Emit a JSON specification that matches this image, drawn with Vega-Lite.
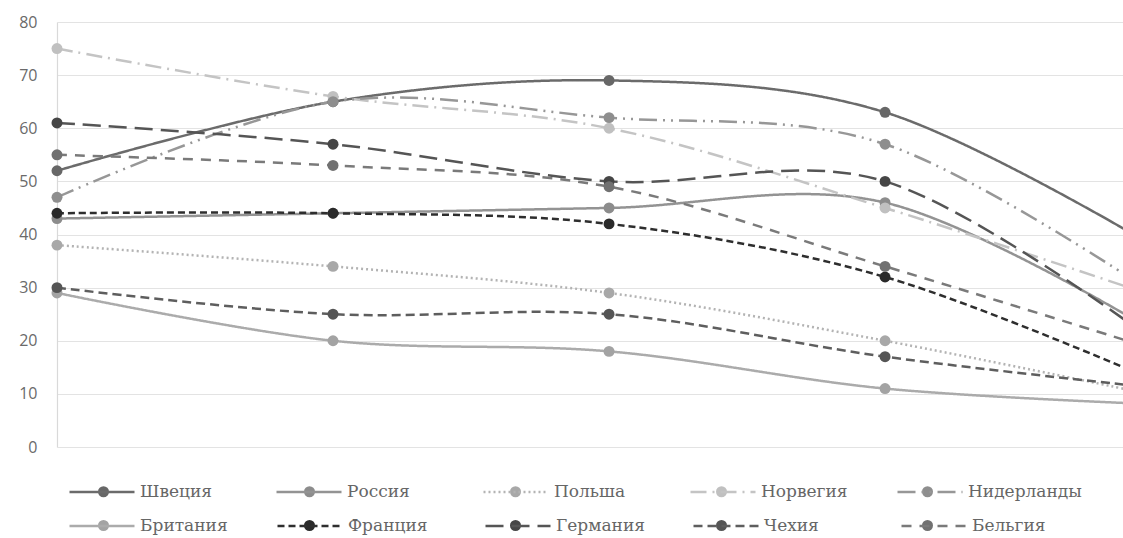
{
  "$schema": "https://vega.github.io/schema/vega-lite/v6.json",
  "width": 1066,
  "height": 425,
  "autosize": {"type": "none"},
  "padding": {"left": 57, "top": 22, "right": 0, "bottom": 91},
  "background": "white",
  "config": {"view": {"stroke": null}},
  "data": {
    "values": [
      {"country": "Швеция", "t": 1, "v": 52}, {"country": "Швеция", "t": 2, "v": 65}, {"country": "Швеция", "t": 3, "v": 69}, {"country": "Швеция", "t": 4, "v": 63}, {"country": "Швеция", "t": 5, "v": 37},
      {"country": "Россия", "t": 1, "v": 43}, {"country": "Россия", "t": 2, "v": 44}, {"country": "Россия", "t": 3, "v": 45}, {"country": "Россия", "t": 4, "v": 46}, {"country": "Россия", "t": 5, "v": 21},
      {"country": "Польша", "t": 1, "v": 38}, {"country": "Польша", "t": 2, "v": 34}, {"country": "Польша", "t": 3, "v": 29}, {"country": "Польша", "t": 4, "v": 20}, {"country": "Польша", "t": 5, "v": 9.5},
      {"country": "Норвегия", "t": 1, "v": 75}, {"country": "Норвегия", "t": 2, "v": 66}, {"country": "Норвегия", "t": 3, "v": 60}, {"country": "Норвегия", "t": 4, "v": 45}, {"country": "Норвегия", "t": 5, "v": 28},
      {"country": "Нидерланды", "t": 1, "v": 47}, {"country": "Нидерланды", "t": 2, "v": 65}, {"country": "Нидерланды", "t": 3, "v": 62}, {"country": "Нидерланды", "t": 4, "v": 57}, {"country": "Нидерланды", "t": 5, "v": 28},
      {"country": "Британия", "t": 1, "v": 29}, {"country": "Британия", "t": 2, "v": 20}, {"country": "Британия", "t": 3, "v": 18}, {"country": "Британия", "t": 4, "v": 11}, {"country": "Британия", "t": 5, "v": 8},
      {"country": "Франция", "t": 1, "v": 44}, {"country": "Франция", "t": 2, "v": 44}, {"country": "Франция", "t": 3, "v": 42}, {"country": "Франция", "t": 4, "v": 32}, {"country": "Франция", "t": 5, "v": 12},
      {"country": "Германия", "t": 1, "v": 61}, {"country": "Германия", "t": 2, "v": 57}, {"country": "Германия", "t": 3, "v": 50}, {"country": "Германия", "t": 4, "v": 50}, {"country": "Германия", "t": 5, "v": 19},
      {"country": "Чехия", "t": 1, "v": 30}, {"country": "Чехия", "t": 2, "v": 25}, {"country": "Чехия", "t": 3, "v": 25}, {"country": "Чехия", "t": 4, "v": 17}, {"country": "Чехия", "t": 5, "v": 11},
      {"country": "Бельгия", "t": 1, "v": 55}, {"country": "Бельгия", "t": 2, "v": 53}, {"country": "Бельгия", "t": 3, "v": 49}, {"country": "Бельгия", "t": 4, "v": 34}, {"country": "Бельгия", "t": 5, "v": 18}
    ]
  },
  "encoding": {
    "x": {"field": "t", "type": "quantitative", "scale": {"domain": [1, 4.862], "nice": false, "zero": false}, "axis": null},
    "y": {
      "field": "v", "type": "quantitative",
      "scale": {"domain": [0, 80], "nice": false},
      "axis": {
        "title": null, "values": [0, 10, 20, 30, 40, 50, 60, 70, 80],
        "ticks": false, "labelPadding": 20, "labelFont": "Open Sans", "labelFontSize": 16,
        "labelColor": "#6a6a6a", "grid": true, "gridColor": "#e3e3e3", "gridWidth": 1.2,
        "domain": true, "domainColor": "#d9d9d9", "domainWidth": 1.2
      }
    }
  },
  "resolve": {"scale": {"color": "independent", "strokeDash": "independent"}},
  "layer": [
    {
      "transform": [{"filter": {"field": "country", "oneOf": ["Швеция", "Россия", "Польша", "Норвегия", "Нидерланды"]}}],
      "mark": {"type": "line", "interpolate": "cardinal", "strokeWidth": 2.5, "clip": true},
      "encoding": {
        "color": {
          "field": "country", "type": "nominal",
          "scale": {
            "domain": ["Швеция", "Россия", "Польша", "Норвегия", "Нидерланды"],
            "range": ["#6b6b6b", "#939393", "#b3b3b3", "#c4c4c4", "#979797"]
          },
          "legend": {
            "orient": "none", "legendX": 11, "legendY": 436, "columns": 5, "direction": "horizontal", "gridAlign": "all",
            "symbolType": "stroke", "symbolSize": 4225, "symbolStrokeWidth": 2.5,
            "labelFont": "DejaVu Serif", "labelFontSize": 17, "labelColor": "#666666", "labelOffset": 4,
            "columnPadding": 17, "title": null, "labelLimit": 300
          }
        },
        "strokeDash": {
          "field": "country", "type": "nominal",
          "scale": {
            "domain": ["Швеция", "Россия", "Польша", "Норвегия", "Нидерланды"],
            "range": [[1, 0], [1, 0], [2, 3], [16, 6, 2, 6], [18, 6, 2, 6, 2, 6]]
          },
          "legend": {
            "orient": "none", "legendX": 11, "legendY": 436, "columns": 5, "direction": "horizontal", "gridAlign": "all",
            "symbolType": "stroke", "symbolSize": 4225, "symbolStrokeWidth": 2.5,
            "labelFont": "DejaVu Serif", "labelFontSize": 17, "labelColor": "#666666", "labelOffset": 4,
            "columnPadding": 17, "title": null, "labelLimit": 300
          }
        }
      }
    },
    {
      "transform": [{"filter": {"field": "country", "oneOf": ["Британия", "Франция", "Германия", "Чехия", "Бельгия"]}}],
      "mark": {"type": "line", "interpolate": "cardinal", "strokeWidth": 2.5, "clip": true},
      "encoding": {
        "color": {
          "field": "country", "type": "nominal",
          "scale": {
            "domain": ["Британия", "Франция", "Германия", "Чехия", "Бельгия"],
            "range": ["#ababab", "#2e2e2e", "#555555", "#5e5e5e", "#7a7a7a"]
          },
          "legend": {
            "orient": "none", "legendX": 11, "legendY": 470, "columns": 5, "direction": "horizontal", "gridAlign": "all",
            "symbolType": "stroke", "symbolSize": 4225, "symbolStrokeWidth": 2.5,
            "labelFont": "DejaVu Serif", "labelFontSize": 17, "labelColor": "#666666", "labelOffset": 4,
            "columnPadding": 43, "title": null, "labelLimit": 300
          }
        },
        "strokeDash": {
          "field": "country", "type": "nominal",
          "scale": {
            "domain": ["Британия", "Франция", "Германия", "Чехия", "Бельгия"],
            "range": [[1, 0], [7, 4], [18, 8], [9, 5], [10, 8]]
          },
          "legend": {
            "orient": "none", "legendX": 11, "legendY": 470, "columns": 5, "direction": "horizontal", "gridAlign": "all",
            "symbolType": "stroke", "symbolSize": 4225, "symbolStrokeWidth": 2.5,
            "labelFont": "DejaVu Serif", "labelFontSize": 17, "labelColor": "#666666", "labelOffset": 4,
            "columnPadding": 43, "title": null, "labelLimit": 300
          }
        }
      }
    },
    {
      "transform": [{"filter": "datum.t < 5"}],
      "mark": {"type": "point", "shape": "circle", "filled": true, "size": 120, "opacity": 1},
      "encoding": {
        "fill": {
          "field": "country", "type": "nominal",
          "scale": {
            "domain": ["Швеция", "Россия", "Польша", "Норвегия", "Нидерланды", "Британия", "Франция", "Германия", "Чехия", "Бельгия", " "],
            "range": ["#676767", "#8c8c8c", "#a8a8a8", "#c0c0c0", "#8e8e8e", "#a3a3a3", "#2a2a2a", "#464646", "#555555", "#717171", "#ffffff"]
          },
          "legend": {
            "orient": "none", "legendX": 38, "legendY": 461, "columns": 5, "direction": "horizontal",
            "values": ["Швеция", "Россия", "Польша", "Норвегия", "Нидерланды", "Британия", "Франция", "Германия", "Чехия", "Бельгия"],
            "symbolType": "circle", "symbolSize": 121, "symbolStrokeWidth": 0,
            "labelExpr": "''", "labelFontSize": 17, "labelOffset": 0,
            "columnPadding": 189, "rowPadding": 16, "title": null, "labelLimit": 300
          }
        }
      }
    }
  ]
}
